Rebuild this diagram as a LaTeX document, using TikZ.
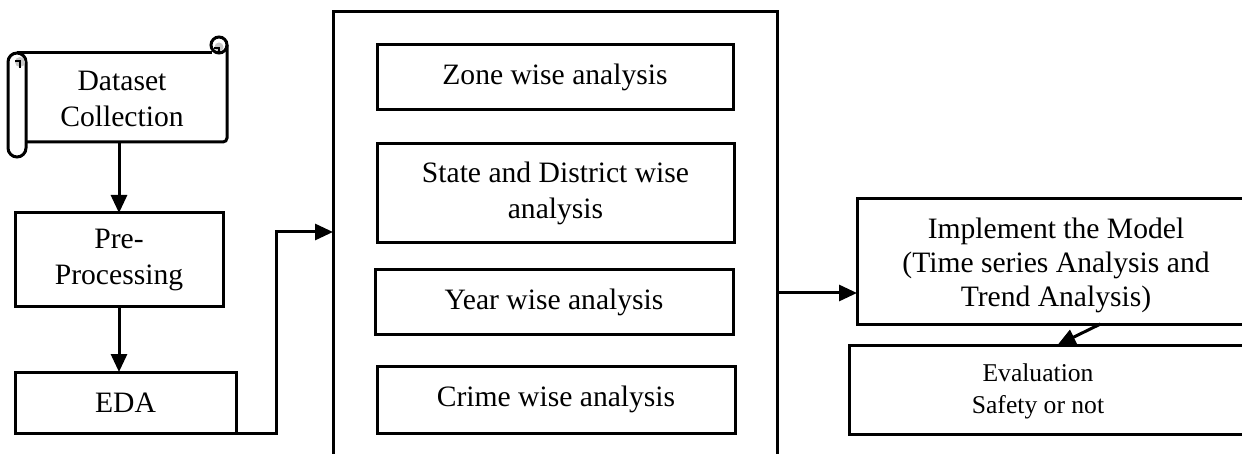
\documentclass[tikz,border=0pt]{standalone}
\usepackage{fontspec}
\setmainfont{Liberation Serif}
\usetikzlibrary{arrows.meta,calc}
\begin{document}
\begin{tikzpicture}[x=0.5pt,y=-0.5pt,
  line width=1.5pt,
  every node/.style={inner sep=0pt,outer sep=0pt,align=center,
    font=\fontsize{14.8}{18}\selectfont},
  box/.style={draw,rectangle},
  arr/.style={-{Triangle[length=9pt,width=8pt]}},
  small/.style={font=\fontsize{12.8}{16}\selectfont}]
\useasboundingbox (0,0) rectangle (1242,454);
\clip (0,0) rectangle (1242,454);
% scroll shape
\draw (17,53) -- (212,53);
\draw[rounded corners=2pt] (227,45) -- (227,142) -- (25,142);
\draw (219,45) circle[radius=8];
\fill[gray!45] (219,47) circle[radius=4.5];
\draw[line width=1pt] (214,48) -- (219,48) -- (219,53);
\draw[rounded corners=4.5pt,fill=white] (8,53) rectangle (26,157);
\fill[gray!45] (20,62) circle[radius=5];
\draw[line width=1pt] (15,61) -- (20,61) -- (20,68);
\node[minimum width=100.5pt,minimum height=44.5pt] (ds) at (125.5,97.5) {};
\node (dstext) at (122,99) {Dataset\\Collection};
% left column
\node[box,minimum width=104pt,minimum height=47pt] (pre) at (119,260) {Pre-\\Processing};
\node[box,minimum width=110.5pt,minimum height=30.5pt] (eda) at (125.5,402.5) {EDA};
% container
\node[box,minimum width=222pt,minimum height=240pt] (outer) at (555,252) {};
\node[box,minimum width=178pt,minimum height=32.5pt] (zone) at (555,77.5) {Zone wise analysis};
\node[box,minimum width=178.5pt,minimum height=49.5pt] (state) at (555.5,193.5) {State and District wise\\analysis};
\node[box,minimum width=179pt,minimum height=32pt] (year) at (554,302) {Year wise analysis};
\node[box,minimum width=179pt,minimum height=33.5pt] (crime) at (556,399.5) {Crime wise analysis};
% right column
\node[box,minimum width=201.5pt,minimum height=62.5pt] (impl) at (1058.5,261.5) {};
\node[font=\fontsize{14.8}{17}\selectfont] (impltext) at (1056,265) {Implement the Model\\(Time series Analysis and\\Trend Analysis)};
\node[box,minimum width=205.5pt,minimum height=44.5pt] (eval) at (1054.5,389.5) {};
\node[small] (evaltext) at (1038,391) {Evaluation\\Safety or not};
% connectors
\draw[arr] (ds.south -| pre.north) -- (pre.north);
\draw[arr] (pre.south) -- (pre.south |- eda.north);
\coordinate (bend) at (276,232);
\draw[arr] (eda.south east) -| (bend) -- (bend -| outer.west);
\coordinate (mid) at (800,293);
\draw[arr] (outer.east |- mid) -- (mid -| impl.west);
\draw[arr] ([xshift=21pt]impl.south) -- ([xshift=1.5pt]eval.north);
\end{tikzpicture}
\end{document}
